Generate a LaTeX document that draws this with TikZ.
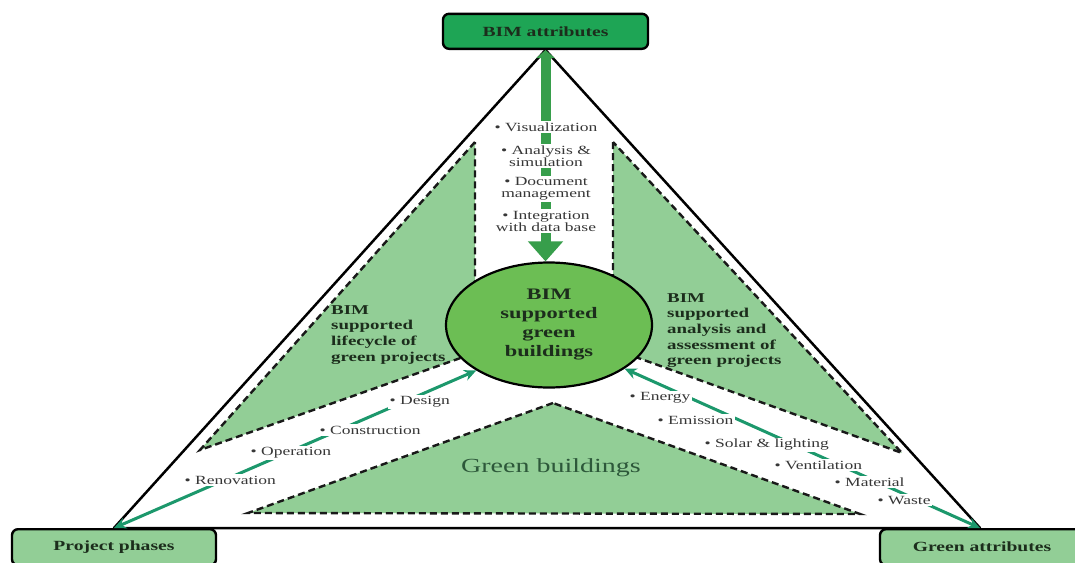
\documentclass[tikz,border=0pt]{standalone}
\usepackage{fontspec}
\setmainfont{Liberation Serif}[FakeStretch=1.4]
\usepackage{xcolor}
\usetikzlibrary{shapes.geometric,arrows.meta,positioning}

\definecolor{boxgreen}{RGB}{30,165,85}
\definecolor{palegreen}{RGB}{146,206,150}
\definecolor{midgreen}{RGB}{108,190,84}
\definecolor{arrgreen}{RGB}{55,158,75}
\definecolor{tealgreen}{RGB}{28,152,108}
\definecolor{labelink}{RGB}{28,45,28}
\definecolor{itemink}{RGB}{55,55,55}
\definecolor{bldink}{RGB}{45,88,58}

\begin{document}
\begin{tikzpicture}[x=1pt, y=-1pt,
  corner/.style={draw=black, line width=2.4pt, rectangle, rounded corners=6pt,
                 font=\fontsize{14}{16}\selectfont\bfseries, text=labelink,
                 minimum width=204pt, minimum height=36pt, inner sep=2pt},
  zone/.style={fill=palegreen, draw=black!90, line width=2.4pt,
               dash pattern=on 7pt off 4pt},
  frame/.style={draw=black, line width=2.5pt, line join=round},
  zonelabel/.style={font=\fontsize{13.5}{15.7}\selectfont\bfseries, text=labelink,
                    align=left, anchor=north west, inner sep=0pt},
  item/.style={font=\fontsize{12.5}{12}\selectfont, text=itemink, fill=white,
               inner sep=1.5pt, align=center},
  bigarr/.style={line width=10pt, draw=arrgreen,
                 {Triangle[length=8pt,width=18pt]}-{Triangle[length=20pt,width=34pt]}},
  arr/.style={line width=3pt, draw=tealgreen,
              {Stealth[length=12pt,width=11pt]}-{Stealth[length=12pt,width=11pt]}}
]
\useasboundingbox (0,0) rectangle (1075,562);
\fill[white] (0,0) rectangle (1075,562);

\coordinate (apex)   at (545.5,50);
\coordinate (leftv)  at (114,528);
\coordinate (rightv) at (980,528);

\draw[zone] (475,142) -- (200,450) -- (520,337) -- (475,337) -- cycle;
\draw[zone] (613,142) -- (613,337) -- (580,337) -- (902,453) -- cycle;
\draw[zone] (553,403) -- (248,513) -- (860,514) -- cycle;

\node[zonelabel] (lifelbl)     at (331,305) {BIM\\supported\\lifecycle of\\green projects};
\node[zonelabel] (analysislbl) at (667,293) {BIM\\supported\\analysis and\\assessment of\\green projects};
\node[font=\fontsize{20}{24}\selectfont, text=bldink] (gblbl) at (551,468) {Green buildings};

\draw[frame] (apex) -- (leftv) -- (rightv) -- cycle;

\node[corner, fill=boxgreen, minimum width=205pt, minimum height=35pt, anchor=south]
  (bimattr) at (apex) {BIM attributes};
\node[corner, fill=palegreen, anchor=north] (phases)    at (leftv)  {Project phases};
\node[corner, fill=palegreen, anchor=north] (greenattr) at ([xshift=2pt]rightv) {Green attributes};

\node[ellipse, draw=black, line width=2.2pt, fill=midgreen, minimum width=206pt,
      minimum height=125pt, inner sep=0pt, align=center,
      font=\fontsize{16}{19}\selectfont\bfseries, text=labelink]
  (bgb) at (549,325) {BIM\\supported\\green\\buildings};

\draw[bigarr] (bimattr.south) -- (bimattr.south |- bgb.north);
\draw[arr] (leftv) -- (bgb.212);
\draw[arr] (rightv) -- (bgb.330);

\node[item] (visual)      at (546,127) {\textbullet\ Visualization};
\node[item] (analysis)    at (546,156) {\textbullet\ Analysis \&\\simulation};
\node[item] (document)    at (546,189) {\textbullet\ Document\\management};
\node[item] (integration) at (546,221) {\textbullet\ Integration\\with data base};

\node[item, anchor=west] (design)       at (388,402) {\textbullet\ Design};
\node[item, anchor=west] (construction) at (318,430) {\textbullet\ Construction};
\node[item, anchor=west] (operation)    at (249,453) {\textbullet\ Operation};
\node[item, anchor=west] (renovation)   at (183,480) {\textbullet\ Renovation};

\node[item, anchor=west] (energy)      at (628,398) {\textbullet\ Energy};
\node[item, anchor=west] (emission)    at (656,420) {\textbullet\ Emission};
\node[item, anchor=west] (solar)       at (703,445) {\textbullet\ Solar \& lighting};
\node[item, anchor=west] (ventilation) at (773,465) {\textbullet\ Ventilation};
\node[item, anchor=west] (material)    at (833,482) {\textbullet\ Material};
\node[item, anchor=west] (waste)       at (876,500) {\textbullet\ Waste};
\end{tikzpicture}
\end{document}
